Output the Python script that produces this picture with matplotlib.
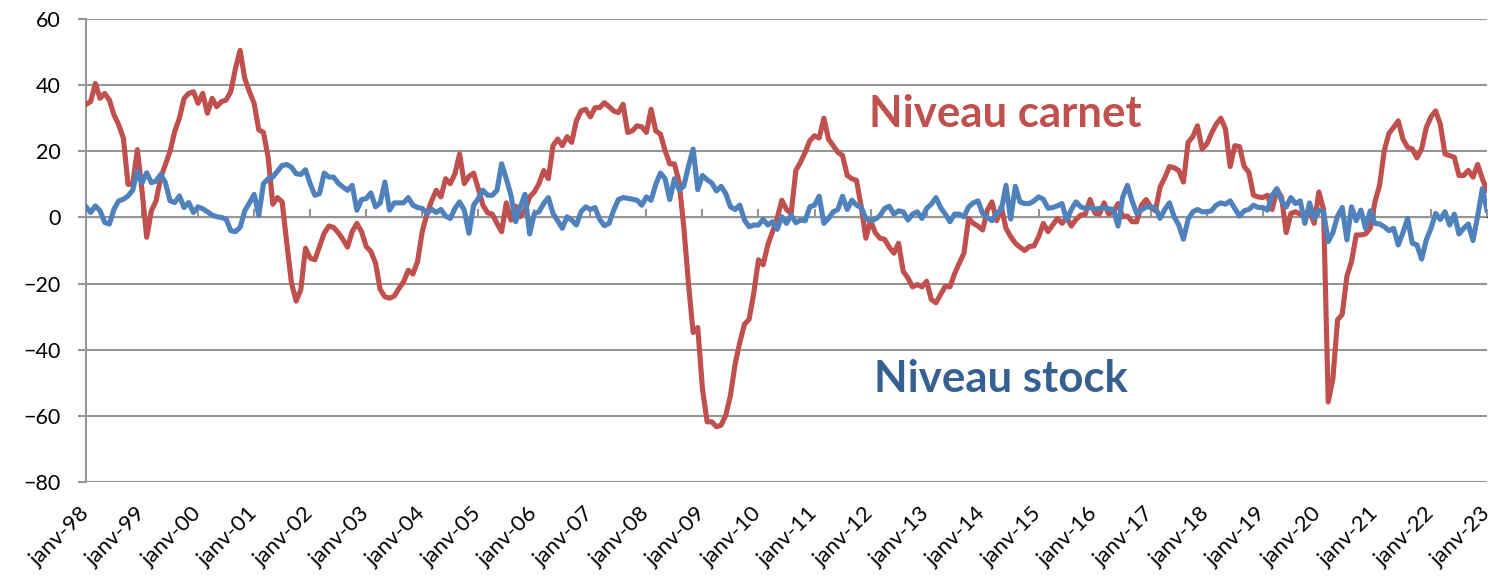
import numpy as np
import matplotlib.pyplot as plt

plt.rcParams['font.family'] = ['Lato', 'DejaVu Sans']

# monthly values, janv-98 .. janv-23 (one row per year)
carnet = [
    34.2, 35, 40.5, 36, 37.5, 35.5, 31, 28, 24, 10, 10, 20.5,
    8, -6, 2, 5, 12, 16, 20, 26, 30, 36, 37.5, 38,
    34.5, 37.5, 31.5, 36, 33.5, 35, 35.5, 38, 45, 50.5, 42, 38,
    34.5, 26.5, 25.7, 18.2, 4, 6, 4.7, -7.8, -19.8, -25.3, -21.8, -9.3,
    -12.3, -12.8, -8.8, -4.8, -2.6, -3, -4.6, -6.6, -9, -4.3, -1.8, -4.3,
    -8.8, -10.3, -13.8, -21.8, -24, -24.4, -23.8, -21.5, -19.5, -16, -17.1, -13.3,
    -4.3, 1, 5, 8.2, 6.2, 11.7, 10.2, 13.2, 19.2, 10.2, 12.4, 13.4,
    8.7, 3.7, 1.4, 1, -1.8, -4.3, 4.4, -0.8, 3.4, 0.2, 2.2, 6.2,
    7.7, 10.2, 14.2, 11.7, 21.7, 23.7, 21.7, 24.4, 22.7, 29.2, 32.2, 32.7,
    30.4, 33.2, 33.2, 34.7, 33.5, 32.2, 31.7, 34.2, 25.7, 26.2, 27.7, 27.4,
    25.7, 32.7, 26.2, 25.2, 20.2, 16.2, 16.2, 10.7, -2.8, -19.8, -34.8, -33.3,
    -51.8, -61.8, -61.8, -63.3, -62.8, -59.8, -53.8, -44.3, -37.8, -32.3, -30.8, -22.8,
    -12.8, -14.3, -8.3, -4.3, -0.3, 5.2, 2.4, 1.2, 14.2, 16.7, 19.7, 23.2,
    24.7, 24, 30, 23.7, 21.7, 19.7, 18.7, 12.7, 11.7, 11.2, 3.2, -6.3,
    -0.8, -4.6, -6.3, -6.6, -9, -10.8, -7.8, -16.3, -18.3, -21, -20.3, -21,
    -19.3, -24.8, -25.8, -23.3, -20.8, -21, -17, -13.8, -10.8, -0.3, -1.8, -2.6,
    -3.8, 2.2, 4.7, -1, 3.2, -3.3, -5.8, -7.8, -9, -10, -8.8, -8.6,
    -5.8, -1.8, -4.3, -2.3, -0.3, -1.8, 0, -2.6, -0.6, 0.7, 1, 5.4,
    1.4, 1, 4.4, 1, 1.7, 4.2, 0.2, 0.4, -1.3, -1.3, 3.7, 5.4,
    3.2, 2, 9.2, 12, 15.4, 15, 14.2, 10.7, 22.7, 24.4, 27.7, 20.7,
    22.2, 25.4, 28.2, 30, 26.7, 15.4, 21.7, 21.4, 15.4, 13.7, 6.7, 6.2,
    6, 6.7, 2.4, 8.4, 6.2, -4.6, 1.2, 1.7, 1, 0.2, 2, -1.8,
    7.7, 2.4, -55.8, -48.8, -31, -29.3, -17.8, -13.3, -5.3, -5.3, -5, -3.3,
    4.7, 9.7, 20.2, 25.4, 27.2, 29.2, 23.7, 21.2, 20.7, 18, 20.7, 27.2,
    30.4, 32.2, 28.2, 19.2, 18.7, 18.2, 12.7, 12.7, 14.2, 12.2, 16, 11.7,
    8.2,
]

stock = [
    3.2, 1.5, 3.5, 2, -1.5, -2, 2.5, 5, 5.5, 6.5, 8.2, 14,
    10.5, 13.5, 10.5, 11, 13, 10.5, 5, 4.5, 6.5, 3, 4.5, 1.5,
    3.2, 2.6, 1.7, 0.7, 0.2, 0, -0.5, -4, -4.3, -3, 2, 4.4,
    7, 0.7, 10.2, 11.7, 12.2, 14, 15.7, 16, 15.2, 13.2, 13, 14.4,
    10.2, 6.7, 7.2, 13.4, 12.2, 12.2, 10.4, 9.2, 8.2, 9.7, 2.2, 5.4,
    5.7, 7.4, 3.2, 4.4, 10.7, 2.2, 4.4, 4.4, 4.4, 6, 3.7, 3,
    2.7, 1.2, 2.5, 1.5, 2.4, 0.4, -0.3, 2.7, 4.7, 2.2, -4.8, 3.7,
    5.7, 8.2, 6.7, 6.7, 8.2, 16.2, 11.7, 6.7, -1.3, 3.2, 7, -5,
    1.2, 1.7, 4.2, 6, 1.2, -1, -3.3, 0.2, -0.8, -2.3, 1.7, 3.2,
    2.4, 3, -0.6, -2.5, -1.8, 2.2, 5.4, 6, 5.8, 5.5, 5.2, 3.7,
    6.2, 5.2, 10, 13.4, 11.7, 5.4, 11.7, 8.4, 9.4, 15.4, 20.7, 8.4,
    12.7, 11.4, 10.4, 8, 9.4, 7.2, 3.2, 2.4, 3.7, -0.8, -2.8, -2.3,
    -2.3, -0.6, -2.3, -1.3, -3.6, 0.2, -1.8, 0.7, -1.6, -0.8, -1, 3.2,
    3.7, 6.4, -1.8, -0.3, 1.7, 2.4, 6.4, 2.4, 5.2, 3.7, 3, -0.3,
    -1, -0.5, 0.5, 2.7, 3.4, 1, 2, 1.7, -0.8, 1, 1.7, -0.3,
    2.7, 4, 6, 3, 1, -1.3, 1, 1, 0.2, 3.2, 4.4, 5,
    1.2, 0, -1, 1.4, 2.2, 9.7, -0.5, 9.4, 4.7, 4.2, 4.2, 5,
    6.2, 5.5, 2.8, 3, 3.5, 4.2, -0.8, 2.4, 4.7, 3.2, 2.7, 3,
    2.5, 2.7, 3, 2.6, 2.4, -2.6, 6.2, 9.7, 5, 1.2, 2.2, 3.2,
    3.1, 3, -0.3, 2.4, 4.4, 0.2, -2.3, -6.6, -0.6, 1.7, 2.4, 1.7,
    1.7, 2, 3.7, 4.4, 4, 5, 2.7, 0.4, 2, 2.4, 3.7, 3,
    3, 2.2, 6.7, 8.7, 5, 3.2, 6, 4.2, 5, -1.8, 4.4, -0.3,
    2.2, 1.7, -7.3, -4.6, 0.4, 3, -6.8, 3.2, -1, 2.2, -3.3, 2,
    -1.8, -2, -2.8, -4, -3.3, -8.3, -4.6, -0.3, -7.8, -8.3, -12.6, -6.8,
    -3.3, 1.2, -0.6, 1.7, -2.3, 1, -5, -3.3, -2, -7, 0.4, 8.7,
    2.2,
]

years = [f"janv-{y % 100:02d}" for y in range(1998, 2024)]
yticks = [-80, -60, -40, -20, 0, 20, 40, 60]

red = '#C0504D'
blue = '#4F81BD'
grey = '#969696'

months = np.arange(len(carnet))

fig = plt.figure(figsize=(14.92, 5.79), dpi=100)
ax = fig.add_axes([86/1492, 1 - 482/579, (1487 - 86)/1492, (482 - 19)/579])

ax.plot(months, carnet, color=red, lw=3.7, solid_joinstyle='round', zorder=3)
ax.plot(months, stock, color=blue, lw=3.7, solid_joinstyle='round', zorder=4)

ax.set_xlim(0, len(carnet) - 1)
ax.set_ylim(-80, 60)
ax.set_yticks(yticks)
ax.yaxis.grid(True, color=grey, lw=1.5)
ax.set_axisbelow(True)

for s in ['top', 'right', 'bottom']:
    ax.spines[s].set_visible(False)
ax.spines['left'].set_color(grey)
ax.spines['left'].set_linewidth(1.5)
ax.tick_params(axis='y', colors=grey, length=6, width=1.5, pad=12,
               labelsize=15.5, labelcolor='black')

# category labels at the bottom, rotated
ax.set_xticks(np.arange(0, len(carnet), 12))
ax.set_xticklabels(years, rotation=45, ha='right', va='center',
                   rotation_mode='anchor', fontsize=16)
ax.tick_params(axis='x', length=0, pad=20)

# horizontal axis line crosses at 0 with its tick marks
sec = ax.secondary_xaxis(80 / 140)
sec.set_xticks(np.arange(0, len(carnet), 12))
sec.set_xticklabels([])
sec.tick_params(length=6, width=1.5, color=grey, direction='out')
sec.spines['bottom'].set_color(grey)
sec.spines['bottom'].set_linewidth(1.5)

fig.text(869/1492, 1 - 114/579, 'Niveau carnet', color=red,
         fontsize=31.5, fontweight='bold', va='center', ha='left')
fig.text(874/1492, 1 - 379/579, 'Niveau stock', color='#376092',
         fontsize=31.5, fontweight='bold', va='center', ha='left')

fig.savefig('out.png', dpi=100)
